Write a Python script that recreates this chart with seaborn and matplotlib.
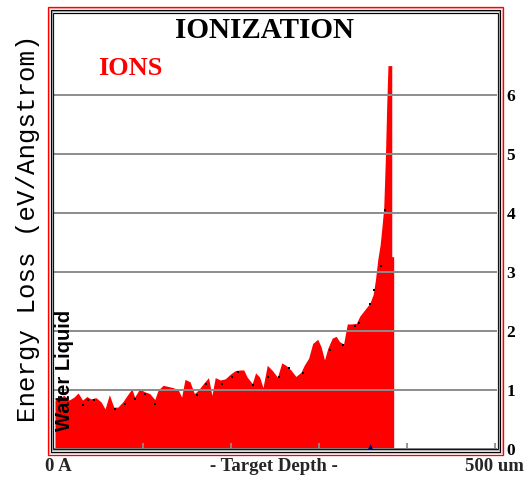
import numpy as np
import pandas as pd
import matplotlib
matplotlib.use("Agg")
import matplotlib.pyplot as plt
import seaborn as sns
from matplotlib.patches import Rectangle

# Ionization energy loss of ions in liquid water (eV/Angstrom vs depth in um)
depth_um = [0.0, 6.5, 10.3, 16.0, 21.7, 26.3, 31.3, 36.2, 40.8, 46.6, 52.3, 56.9,
            61.8, 66.8, 71.4, 77.1, 82.1, 87.4, 90.5, 96.2, 101.9, 107.6, 113.4,
            117.2, 122.9, 128.6, 134.4, 140.1, 143.9, 147.7, 153.4, 158.4, 163.0,
            168.7, 174.4, 178.3, 182.1, 187.8, 193.5, 199.3, 205.0, 210.7, 214.5,
            218.3, 224.1, 227.9, 232.5, 236.3, 241.2, 247.0, 252.7, 257.7, 262.2,
            268.0, 273.7, 279.4, 283.2, 288.2, 292.8, 298.5, 302.4, 306.2, 310.0,
            315.0, 319.5, 323.3, 327.9, 332.1, 336.7, 342.4, 346.2, 351.9, 357.7,
            361.5, 364.1, 366.7, 369.4, 371.7, 373.5, 375.4, 376.9, 378.3, 382.6,
            382.6, 384.8, 384.8]
ion_loss = [0.83, 0.88, 0.91, 0.83, 0.88, 0.95, 0.83, 0.89, 0.85, 0.87, 0.80,
            0.68, 0.92, 0.71, 0.71, 0.80, 0.91, 1.02, 0.88, 1.02, 0.97, 0.94,
            0.84, 1.00, 1.08, 1.06, 1.04, 1.00, 0.88, 1.18, 1.14, 0.94, 1.00,
            1.11, 1.21, 0.91, 1.21, 1.17, 1.19, 1.27, 1.33, 1.34, 1.34, 1.22,
            1.11, 1.29, 1.22, 1.04, 1.42, 1.33, 1.22, 1.46, 1.42, 1.34, 1.23,
            1.30, 1.42, 1.54, 1.79, 1.86, 1.73, 1.51, 1.71, 1.88, 1.91, 1.82,
            1.78, 2.12, 2.12, 2.13, 2.25, 2.36, 2.47, 2.62, 2.87, 3.21, 3.46,
            3.80, 4.10, 4.95, 5.84, 6.50, 6.50, 3.26, 3.26, 0.0]

# Sampled points of the second (dotted) curve
dot_depth = [6.5, 32.4, 37.7, 44.6, 68.6, 79.7, 91.2, 102.7, 113.4, 161.1, 171.4,
             189.7, 201.2, 208.1, 224.9, 242.4, 254.7, 266.1, 281.4, 312.0, 327.2,
             340.6, 345.5, 357.7, 362.6, 370.6, 375.4]
dot_loss = [0.88, 0.75, 0.83, 0.83, 0.67, 0.77, 0.84, 0.93, 0.77, 0.91, 1.11,
            1.10, 1.22, 1.31, 1.09, 1.22, 1.22, 1.38, 1.28, 1.68, 1.77, 2.08,
            2.13, 2.46, 2.70, 3.10, 4.05]

# Recoil ionization (barely above zero)
recoil_depth = [358.0]
recoil_loss = [0.03]

y_ticks = [0, 1, 2, 3, 4, 5, 6]
x_ticks = [100, 200, 300, 400, 500]

sns.set_style("white")
plt.rcParams["font.family"] = ["Liberation Serif", "DejaVu Serif"]

W, H = 528, 480
fig = plt.figure(figsize=(W / 100, H / 100), dpi=100)
fig.patch.set_facecolor("white")


def px_rect(x0, y0, x1, y1, color, lw_px):
    """Rectangle outline given in pixel coordinates measured from the top-left."""
    r = Rectangle((x0 / W, 1 - y1 / H), (x1 - x0) / W, (y1 - y0) / H,
                  transform=fig.transFigure, fill=False, edgecolor=color,
                  linewidth=lw_px * 0.72, zorder=5)
    fig.patches.append(r)


# Plot area
ax_l, ax_r, ax_t, ax_b = 53.2, 497.3, 12.5, 449.0
ax = fig.add_axes([ax_l / W, 1 - ax_b / H, (ax_r - ax_l) / W, (ax_b - ax_t) / H])
ax.set_facecolor("white")

ions = pd.DataFrame({"depth": depth_um, "loss": ion_loss})
ax.fill_between(ions["depth"], 0, ions["loss"], color="#ff0000", linewidth=0,
                antialiased=False, zorder=1)

dots = pd.DataFrame({"depth": dot_depth, "loss": dot_loss})
sns.scatterplot(data=dots, x="depth", y="loss", color="black", marker="s", s=2.2,
                linewidth=0, ax=ax, zorder=3)
recoils = pd.DataFrame({"depth": recoil_depth, "loss": recoil_loss})
sns.scatterplot(data=recoils, x="depth", y="loss", color="#000080", marker="^",
                s=22, linewidth=0, ax=ax, zorder=3)

ax.set_xlim(-2, 502.5)
ax.set_ylim(0, 7.40)
ax.set_xlabel("")
ax.set_ylabel("")
for s in ax.spines.values():
    s.set_visible(False)

ax.set_axisbelow(False)
ax.set_yticks(y_ticks)
ax.yaxis.tick_right()
ax.set_yticklabels([str(v) for v in y_ticks], fontsize=12.5, fontweight="bold",
                   color="black")
ax.tick_params(axis="y", length=0, pad=6.5)
ax.grid(axis="y", color="#8c8c8c", linewidth=1.4)
ax.grid(axis="x", visible=False)

ax.set_xticks(x_ticks)
ax.set_xticklabels([])
ax.tick_params(axis="x", direction="in", length=4.2, width=1.3, color="#8c8c8c",
               bottom=True)

# Double frame around the plot and red outer border
px_rect(53.0, 12.5, 497.5, 448.8, "black", 1.2)
px_rect(51.8, 11.2, 498.8, 450.2, "#b4b4b4", 1.2)
px_rect(50.6, 9.9, 500.0, 451.6, "black", 1.2)
px_rect(48.7, 8.2, 501.9, 453.4, "#ffb4b4", 1.0)
px_rect(47.7, 7.2, 502.8, 454.5, "#ff0000", 1.3)

# Texts
fig.text(264 / W, 1 - 38.3 / H, "IONIZATION", ha="center", va="baseline",
         fontsize=21, fontweight="bold", color="black")
fig.text(130 / W, 1 - 75 / H, "IONS", ha="center", va="baseline",
         fontsize=19, fontweight="bold", color="#ff0000")
fig.text(28 / W, 1 - 228 / H, "Energy Loss (eV/Angstrom)", rotation=90,
         ha="center", va="center", fontsize=18.5, family=["Liberation Mono"],
         color="black")
fig.text(65 / W, 1 - 370 / H, "Water Liquid", rotation=90, ha="center",
         va="center", fontsize=14.5, fontweight="bold",
         family=["Liberation Sans"], color="black")
fig.text(45 / W, 1 - 471 / H, "0 A", ha="left", va="baseline", fontsize=13.5,
         fontweight="bold")
fig.text(274 / W, 1 - 471 / H, "- Target Depth -", ha="center", va="baseline",
         fontsize=13.5, fontweight="bold")
fig.text(524 / W, 1 - 471 / H, "500 um", ha="right", va="baseline",
         fontsize=13.5, fontweight="bold")

fig.savefig("out.png", dpi=100, facecolor="white")
